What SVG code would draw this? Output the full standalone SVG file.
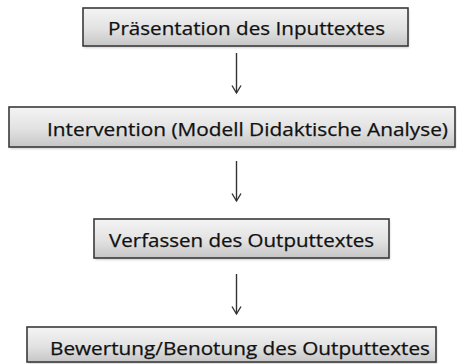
<svg xmlns="http://www.w3.org/2000/svg" width="457" height="364" viewBox="0 0 457 364">
  <style>
    .box { fill: url(#boxFill); stroke: #3a3a3a; stroke-width: 1.6; }
    .shadow { fill: #000; opacity: 0.18; filter: url(#soft); }
    .label { font-family: "Open Sans", "Liberation Sans", sans-serif; font-size: 18px; fill: #111; stroke: #111; stroke-width: 0.25; }
    .conn { stroke: #333; stroke-width: 1.4; fill: none; marker-end: url(#head); }
  </style>
  <defs>
    <linearGradient id="boxFill" x1="0" y1="0" x2="0" y2="1">
      <stop offset="0" stop-color="#f4f4f4"/>
      <stop offset="0.55" stop-color="#e2e2e2"/>
      <stop offset="1" stop-color="#c6c6c6"/>
    </linearGradient>
    <filter id="soft" x="-5%" y="-20%" width="110%" height="140%">
      <feGaussianBlur stdDeviation="1.2"/>
    </filter>
    <!-- open V head, drawn pointing along +x so orient="auto" turns it down the line -->
    <marker id="head" markerWidth="12" markerHeight="12" refX="10" refY="6" orient="auto" markerUnits="userSpaceOnUse" viewBox="0 0 12 12">
      <path d="M2.5,1.5 L10,6 L2.5,10.5" fill="none" stroke="#333" stroke-width="1.4"/>
    </marker>
  </defs>

  <g id="connectors">
    <line class="conn" x1="236.5" y1="53" x2="236.5" y2="93"/>
    <line class="conn" x1="236.5" y1="161" x2="236.5" y2="201"/>
    <line class="conn" x1="236.5" y1="274" x2="236.5" y2="314"/>
  </g>

  <g id="node-praesentation">
    <rect class="shadow" x="84" y="10" width="325" height="38"/>
    <rect class="box" x="83" y="8" width="325" height="38"/>
    <text class="label" x="108" y="35" textLength="277" lengthAdjust="spacingAndGlyphs">Präsentation des Inputtextes</text>
  </g>

  <g id="node-intervention">
    <rect class="shadow" x="10" y="109" width="446" height="40"/>
    <rect class="box" x="9" y="107" width="446" height="40"/>
    <text class="label" x="47" y="136" textLength="401" lengthAdjust="spacingAndGlyphs">Intervention (Modell Didaktische Analyse)</text>
  </g>

  <g id="node-verfassen">
    <rect class="shadow" x="95" y="221" width="295" height="39"/>
    <rect class="box" x="94" y="219" width="295" height="39"/>
    <text class="label" x="109" y="247" textLength="265" lengthAdjust="spacingAndGlyphs">Verfassen des Outputtextes</text>
  </g>

  <g id="node-bewertung">
    <rect class="shadow" x="28" y="329" width="409" height="35"/>
    <rect class="box" x="27" y="327" width="409" height="35"/>
    <text class="label" x="50" y="355" textLength="380" lengthAdjust="spacingAndGlyphs">Bewertung/Benotung des Outputtextes</text>
  </g>
</svg>
